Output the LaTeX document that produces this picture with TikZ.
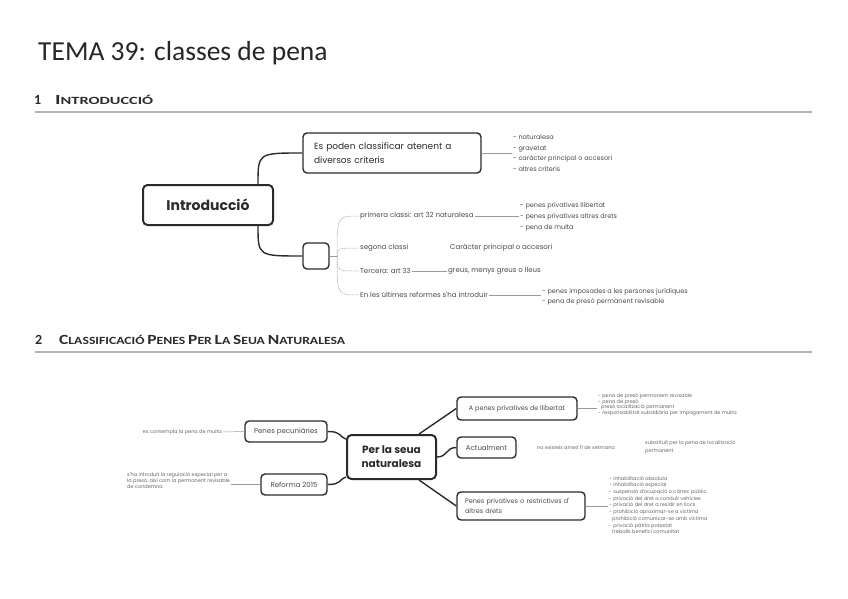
\documentclass[tikz,border=0pt]{standalone}
\usepackage{fontspec}
\usepackage{graphicx}
\setmainfont{Carlito}
\newfontfamily\pop{Poppins}
\usetikzlibrary{calc}
\definecolor{ink}{HTML}{2B2B2B}
\definecolor{titlec}{HTML}{262626}
\definecolor{txt}{HTML}{4A4A4A}
\definecolor{soft}{HTML}{666666}
\definecolor{rulec}{HTML}{B4B4B4}
\definecolor{thinline}{HTML}{9A9A9A}
\newcommand{\myfs}[1]{\fontsize{#1}{#1}\selectfont}
\newcommand{\myfsb}[2]{\fontsize{#1}{#2}\selectfont}
\begin{document}
\begin{tikzpicture}[x=1pt,y=-1pt,
  bigbox/.style={draw=ink,line width=2,rounded corners=4.5,fill=white,text=ink,align=center,inner sep=2},
  childbox/.style={draw=ink,line width=1.4,rounded corners=4,fill=white,text=txt,inner sep=2},
  conn/.style={draw=ink,line width=1.4},
  thin/.style={draw=thinline,line width=0.5},
  dconn/.style={draw=thinline,line width=0.5,dash pattern=on 1.5pt off 1pt},
  lbl/.style={font=\pop\myfs{7},text=txt,inner sep=1,anchor=west},
  lst/.style={text=txt,inner sep=1,anchor=west,align=left},
  tiny/.style={text=soft,inner sep=1,anchor=west,align=left},
  rulestyle/.style={draw=rulec,line width=1.4},
]
\useasboundingbox (0,0) rectangle (848,599);

% title and headings
\node[anchor=base west,inner sep=0,font=\myfs{27.5},text=titlec] (title) at (38,61) {TEMA 39: classes de pena};
\node[anchor=base west,inner sep=0,font=\bfseries\myfs{14},text=ink] (h1n) at (34,105) {1};
\node[anchor=base west,inner sep=0,font=\bfseries,text=ink] (h1) at (55,105)
  {\resizebox{98pt}{\height}{{\myfs{14}I}{\myfs{11}NTRODUCCIÓ}}};
\coordinate (r1a) at (35,112); \coordinate (r1b) at (812,112);
\draw[rulestyle] (r1a) -- (r1b);

\node[anchor=base west,inner sep=0,font=\bfseries\myfs{14},text=ink] (h2n) at (35,344) {2};
\node[anchor=base west,inner sep=0,font=\bfseries,text=ink] (h2) at (59,344)
  {\resizebox{286pt}{\height}{{\myfs{14}C}{\myfs{11}LASSIFICACIÓ} {\myfs{14}P}{\myfs{11}ENES} {\myfs{14}P}{\myfs{11}ER} {\myfs{14}L}{\myfs{11}A} {\myfs{14}S}{\myfs{11}EUA} {\myfs{14}N}{\myfs{11}ATURALESA}}};
\coordinate (r2a) at (35,352); \coordinate (r2b) at (812,352);
\draw[rulestyle] (r2a) -- (r2b);

% ---------- section 1 ----------
\node[bigbox,minimum width=130,minimum height=40,font=\pop\bfseries\myfs{14}] (intro) at (208,205) {Introducció};
\node[childbox,minimum width=178,minimum height=40,text width=156,align=left,inner xsep=11,text=ink,font=\pop\myfsb{9}{13.5}] (es) at (392,153) {Es poden classificar atenent a\\diversos criteris};
\node[childbox,minimum width=26,minimum height=26,inner sep=0] (sb) at (316,256) {};
\coordinate (fan) at (337,256);

\node[lbl] (c1) at (359,216) {primera classi: art 32 naturalesa};
\node[lbl] (c2) at (359,248) {segona classi};
\node[lbl] (c3) at (359,271) {Tercera: art 33};
\node[lbl] (c4) at (359,295) {En les últimes reformes s'ha introduir};

\node[lst,font=\pop\myfsb{6.5}{10.7}] (l0) at (512,153) {- naturalesa\\- gravetat\\- caràcter principal o accesori\\- altres criteris};
\node[lst,font=\pop\myfsb{6.5}{11}] (l1) at (519,217) {- penes privatives llibertat\\- penes privatives altres drets\\- pena de multa};
\node[lbl] (l2) at (449,248) {Caràcter principal o accesori};
\node[lbl] (l3) at (447,271) {greus, menys greus o lleus};
\node[lst,font=\pop\myfsb{6.5}{10}] (l4) at (541,297) {- penes imposades a les persones jurídiques\\- pena de presó permanent revisable};

\draw[conn] ([xshift=50]intro.north) .. controls ([xshift=50]intro.north |- es.west) .. (es.west);
\draw[conn] ([xshift=50]intro.south) .. controls ([xshift=50]intro.south |- sb.west) .. (sb.west);
\draw[thin] (sb.east) -- (fan);
\draw[dconn] (fan) .. controls (fan |- c1.west) .. (c1.west);
\draw[dconn] (fan) .. controls (fan |- c2.west) .. (c2.west);
\draw[dconn] (fan) .. controls (fan |- c3.west) .. (c3.west);
\draw[dconn] (fan) .. controls (fan |- c4.west) .. (c4.west);

\draw[thin] (es.east) -- (es.east -| l0.west);
\draw[thin] (c1.east) -- (c1.east -| l1.west);
\draw[thin] (c3.east) -- (c3.east -| l3.west);
\draw[thin] (c4.east) -- (c4.east -| l4.west);

% ---------- section 2 ----------
\node[bigbox,minimum width=89,minimum height=44,font=\pop\bfseries\myfsb{10.5}{14}] (pln) at (391.5,457) {Per la seua\\naturalesa};
\node[childbox,minimum width=82,minimum height=21,font=\pop\myfs{7}] (pp) at (286,431.5) {Penes pecuniàries};
\node[childbox,minimum width=66,minimum height=21,font=\pop\myfs{7}] (rf) at (294,484.5) {Reforma 2015};
\node[childbox,minimum width=120,minimum height=23,font=\pop\myfs{6.5}] (ap) at (517,408.5) {A penes privatives de llibertat};
\node[childbox,minimum width=59,minimum height=21,font=\pop\myfs{7}] (ac) at (486.5,447.5) {Actualment};
\node[childbox,minimum width=128,minimum height=28,text width=112,inner xsep=8,align=left,font=\pop\myfsb{6.5}{10}] (pr) at (521,506) {Penes privatives o restrictives d'\\altres drets};

\node[tiny,anchor=east,font=\pop\myfs{5}] (t0) at (223,432) {es contempla la pena de multa};
\node[tiny,font=\pop\myfsb{5}{6}] (t1) at (126,481) {s'ha introduït la regulació especial per a\\la presó, així com la permanent revisable\\de condemna};
\node[tiny,font=\pop\myfsb{5}{5.6}] (t2) at (597,404.5) {- pena de presó permanent revisable\\- pena de presó\\\hspace*{3pt}presó localització permanent\\- responsabilitat subsidiària per impagament de multa};
\node[tiny,font=\pop\myfs{5}] (t3) at (536,447.5) {no existeix arrest fi de setmana};
\node[tiny,font=\pop\myfsb{5}{8}] (t4) at (644,447) {substituït per la pena de localització\\permanent};
\node[tiny,font=\pop\myfsb{5}{6.7}] (t5) at (608,505) {- inhabilitació absoluta\\- inhabilitació especial\\- suspensió d'ocupació o càrrec públic\\- privació del dret a conduir vehicles\\- privació del dret a residir en llocs\\- prohibició aproximar-se a víctima\\\hspace*{3pt}prohibició comunicar-se amb víctima\\- privació pàtria potestat\\\hspace*{3pt}treballs benefici comunitat};

\draw[conn] (pp.east) .. controls +(14,0) and +(-8,-3) .. ($(pln.north west)+(0,5)$);
\draw[conn] (rf.east) .. controls +(14,0) and +(-8,3) .. ($(pln.south west)+(0,-3)$);
\draw[conn] ($(pln.north east)+(-18,0)$) .. controls ($(pln.north east)+(-18,0)$ |- ap.west) .. (ap.west);
\draw[conn] (pln.east) .. controls +(11,0) and +(-11,0) .. (ac.west);
\draw[conn] ($(pln.south east)+(-18,0)$) .. controls ($(pln.south east)+(-18,0)$ |- pr.west) .. (pr.west);

\draw[thin] (pp.west) -- (t0.east);
\draw[thin] (rf.west) -- (rf.west -| t1.east);
\draw[thin] (ap.east) -- (ap.east -| t2.west);
\draw[thin] (pr.east) -- (pr.east -| t5.west);
\end{tikzpicture}
\end{document}
